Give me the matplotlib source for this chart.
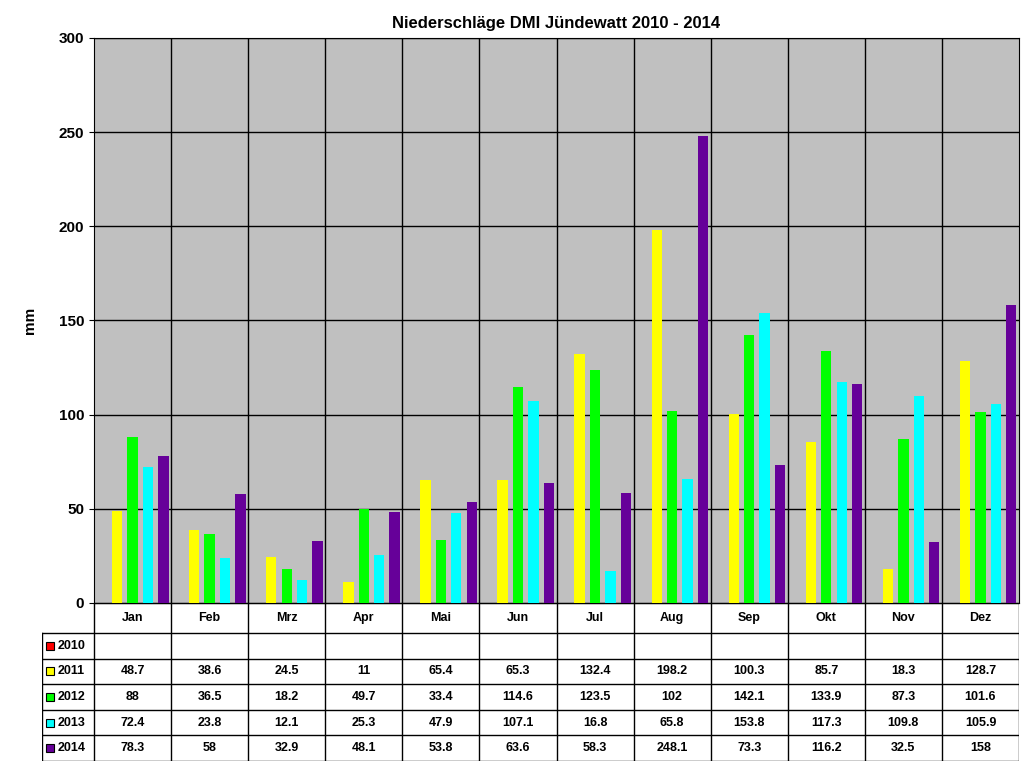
import matplotlib.pyplot as plt
import numpy as np

months = ['Jan', 'Feb', 'Mrz', 'Apr', 'Mai', 'Jun', 'Jul', 'Aug', 'Sep', 'Okt', 'Nov', 'Dez']
years = ['2010', '2011', '2012', '2013', '2014']
colors = ['#FF0000', '#FFFF00', '#00FF00', '#00FFFF', '#660099']
r2010 = [None] * 12
r2011 = [48.7, 38.6, 24.5, 11, 65.4, 65.3, 132.4, 198.2, 100.3, 85.7, 18.3, 128.7]
r2012 = [88, 36.5, 18.2, 49.7, 33.4, 114.6, 123.5, 102, 142.1, 133.9, 87.3, 101.6]
r2013 = [72.4, 23.8, 12.1, 25.3, 47.9, 107.1, 16.8, 65.8, 153.8, 117.3, 109.8, 105.9]
r2014 = [78.3, 58, 32.9, 48.1, 53.8, 63.6, 58.3, 248.1, 73.3, 116.2, 32.5, 158]
series = [r2010, r2011, r2012, r2013, r2014]

W, H = 1024, 768
fig = plt.figure(figsize=(W / 100, H / 100), dpi=100)
plt.rcParams['font.family'] = ['Liberation Sans', 'DejaVu Sans']

L, R, T, B = 94, 1019, 38, 603
ax = fig.add_axes([L / W, 1 - B / H, (R - L) / W, (B - T) / H])
ax.set_facecolor('#C0C0C0')
x = np.arange(12)
bw = 0.135
for i, (s, c) in enumerate(zip(series, colors)):
    vals = [np.nan if v is None else v for v in s]
    ax.bar(x + (i - 2) * 0.2, vals, width=bw, color=c, zorder=3)
ax.set_xlim(-0.5, 11.5)
ax.set_ylim(0, 300)
ax.set_yticks(range(0, 301, 50))
ax.set_xticks([])
for v in np.arange(0.5, 11.5, 1):
    ax.axvline(v, color='black', lw=1, zorder=1)
ax.grid(axis='y', color='black', lw=1, zorder=1)
for lab in ax.get_yticklabels():
    lab.set_fontweight('bold')
    lab.set_fontsize(11)
ax.set_ylabel('mm', fontweight='bold', fontsize=11, labelpad=16)
ax.set_title('Niederschläge DMI Jündewatt 2010 - 2014', fontweight='bold', fontsize=12, pad=7)

# Tabelle
TL, TB = 42, 761
tax = fig.add_axes([TL / W, 1 - TB / H, (R - TL) / W, (TB - B) / H])
tax.set_xlim(TL, R)
tax.set_ylim(TB, B)
tax.axis('off')
colw = (R - L) / 12
rows_y = np.linspace(633, TB, 6)
for yy in rows_y:
    tax.plot([TL, R], [yy, yy], color='black', lw=1)
tax.plot([L, R], [B, B], color='black', lw=1)
tax.plot([TL, TL], [633, TB], color='black', lw=1)
for j in range(13):
    xx = L + j * colw
    tax.plot([xx, xx], [B, TB], color='black', lw=1)
for j, m in enumerate(months):
    tax.text(L + (j + 0.5) * colw, (B + 633) / 2, m, ha='center', va='center', fontsize=9, fontweight='bold')
for i, (yr, s, c) in enumerate(zip(years, series, colors)):
    yc = (rows_y[i] + rows_y[i + 1]) / 2
    tax.add_patch(plt.Rectangle((46, yc - 4), 8, 8, facecolor=c, edgecolor='black', lw=0.8))
    tax.text(58, yc, yr, ha='left', va='center', fontsize=9, fontweight='bold')
    for j, v in enumerate(s):
        if v is not None:
            tax.text(L + (j + 0.5) * colw, yc, f'{v:g}', ha='center', va='center', fontsize=9, fontweight='bold')

fig.savefig('out.png', dpi=100)
